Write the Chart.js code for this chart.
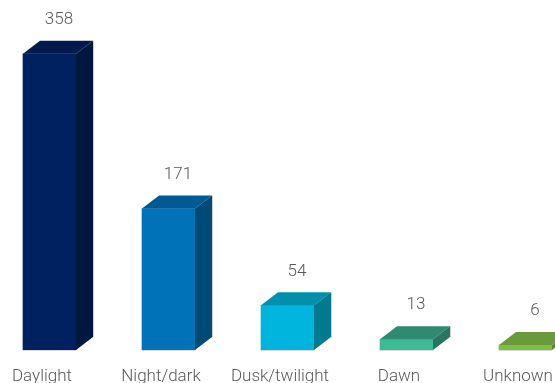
<!DOCTYPE html>
<html>
<head>
<meta charset="utf-8">
<script src="https://cdn.jsdelivr.net/npm/chart.js@4/dist/chart.umd.min.js"></script>
<style>
  html, body { margin: 0; padding: 0; background: #fff; }
  canvas { display: block; }
</style>
</head>
<body>
<canvas id="chart" width="555" height="383"></canvas>
<script>
// data
const categories = ['Daylight', 'Night/dark', 'Dusk/twilight', 'Dawn', 'Unknown'];
const counts = [358, 171, 54, 13, 6];

const frontColors = ['#00215f', '#0072b8', '#00b5dd', '#3dbb96', '#7dc143'];
const topColors = ['#001a4d', '#005a92', '#0090ad', '#2e8a70', '#6a9a3c'];
const sideColors = ['#001742', '#004a78', '#007a8e', '#287560', '#5e8a35'];

const depthX = 17;  // how far the back face sits right
const depthY = 13;  // and up

// draws the top + side faces so the bars look like boxes, plus the value labels
const boxPlugin = {
    id: 'boxes',
    afterDatasetsDraw(chart) {
        const ctx = chart.ctx;
        const meta = chart.getDatasetMeta(0);
        meta.data.forEach((bar, i) => {
            const left = bar.x - bar.width / 2;
            const right = bar.x + bar.width / 2;
            const top = bar.y;
            const base = bar.base;

            ctx.save();
            // faint floor line under the front face
            ctx.fillStyle = '#d9d9d9';
            ctx.fillRect(left, base, right - left, 1);

            // faint edge on the back right
            ctx.fillStyle = '#d0d0d0';
            ctx.fillRect(right + depthX, top - depthY, 1, base - top);

            // top face
            ctx.fillStyle = topColors[i];
            ctx.beginPath();
            ctx.moveTo(left, top);
            ctx.lineTo(left + depthX, top - depthY);
            ctx.lineTo(right + depthX, top - depthY);
            ctx.lineTo(right, top);
            ctx.closePath();
            ctx.fill();

            // side face
            ctx.fillStyle = sideColors[i];
            ctx.beginPath();
            ctx.moveTo(right, top);
            ctx.lineTo(right + depthX, top - depthY);
            ctx.lineTo(right + depthX, base - depthY);
            ctx.lineTo(right, base);
            ctx.closePath();
            ctx.fill();

            // value label
            ctx.fillStyle = '#595959';
            ctx.font = '300 17px Roboto';
            ctx.textAlign = 'center';
            ctx.textBaseline = 'middle';
            ctx.fillText(String(counts[i]), bar.x + depthX / 2 + 1, top - depthY - 21);
            ctx.restore();
        });
    }
};

new Chart(document.getElementById('chart'), {
    type: 'bar',
    data: {
        labels: categories,
        datasets: [{
            data: counts,
            backgroundColor: frontColors,
            borderWidth: 0,
            barThickness: 53,
            clip: false
        }]
    },
    options: {
        responsive: false,
        animation: false,
        layout: {
            padding: { left: 49.5, right: 29.5, top: 0, bottom: 0 }
        },
        plugins: {
            legend: { display: false },
            tooltip: { enabled: false }
        },
        scales: {
            x: {
                offset: false,
                grid: { display: false, drawTicks: false },
                border: { display: false },
                ticks: {
                    color: '#595959',
                    font: { family: 'Roboto', size: 17, weight: '300', lineHeight: 1 },
                    padding: 18,
                    labelOffset: -7.5,
                    autoSkip: false,
                    maxRotation: 0
                },
                afterFit(scale) {
                    // keep the edge labels from squeezing the plot, fix the axis band height
                    scale.paddingLeft = 0;
                    scale.paddingRight = 0;
                    scale.height = 33;
                }
            },
            y: {
                display: false,
                min: 0,
                max: 423
            }
        }
    },
    plugins: [boxPlugin]
});
</script>
</body>
</html>
